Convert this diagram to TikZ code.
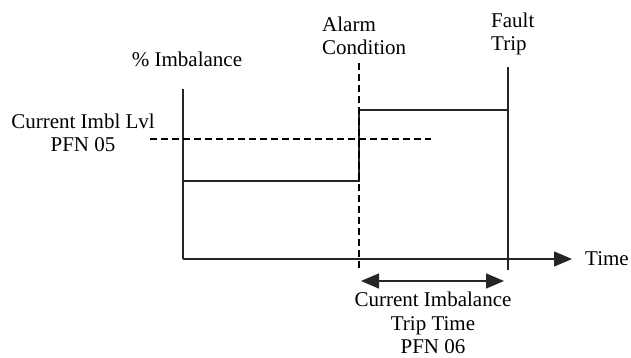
\documentclass[tikz,border=0pt]{standalone}
\usepackage{fontspec}
\setmainfont{Liberation Serif}
\usetikzlibrary{arrows.meta}
\begin{document}
\begin{tikzpicture}[x=1pt,y=-1pt,
  ln/.style={line width=1.5pt, black!85},
  dsh/.style={line width=1.2pt, dash pattern=on 7pt off 4pt},
  lbl/.style={font=\fontsize{21}{23.5}\selectfont, inner sep=0pt, align=center},
  tip/.tip={Triangle[length=18pt,width=15pt]}]
\useasboundingbox (0,0) rectangle (631,358);
% coordinates
\coordinate (o) at (183,259);
\coordinate (ytop) at (183,89);
\coordinate (xend) at (572,259);
\coordinate (lowL) at (183,181);
\coordinate (lowR) at (359,181);
\coordinate (highL) at (359,110);
\coordinate (highR) at (508,110);
\coordinate (alTop) at (359,63);
\coordinate (alBot) at (359,270);
\coordinate (ftTop) at (508,67);
\coordinate (ftBot) at (508,270);
\coordinate (thL) at (150,139);
\coordinate (thR) at (431,139);
\coordinate (dL) at (361,281);
\coordinate (dR) at (504,281);
% axes
\draw[ln, -tip] (o) -- (xend);
\draw[ln] (ytop) -- (o);
% signal
\draw[ln] (lowL) -- (lowR) -- (highL) -- (highR);
\draw[ln] (ftTop) -- (ftBot);
% dashed
\draw[dsh] (alTop) -- (alBot);
\draw[dsh] (thL) -- (thR);
% double arrow
\draw[ln, tip-tip] (dL) -- (dR);
% labels
\node[lbl] (imb) at (187,59) {\% Imbalance};
\node[lbl] (lvl) at (83,133) {Current Imbl Lvl\\PFN 05};
\node[lbl, align=left, anchor=west] (alarm) at (322,36) {Alarm\\Condition};
\node[lbl, align=left, anchor=west] (fault) at (491,34) {Fault\\Trip};
\node[lbl, anchor=west] (time) at (585,259) {Time};
\node[lbl] (ttime) at (433,323) {Current Imbalance\\Trip Time\\PFN 06};
\end{tikzpicture}
\end{document}
